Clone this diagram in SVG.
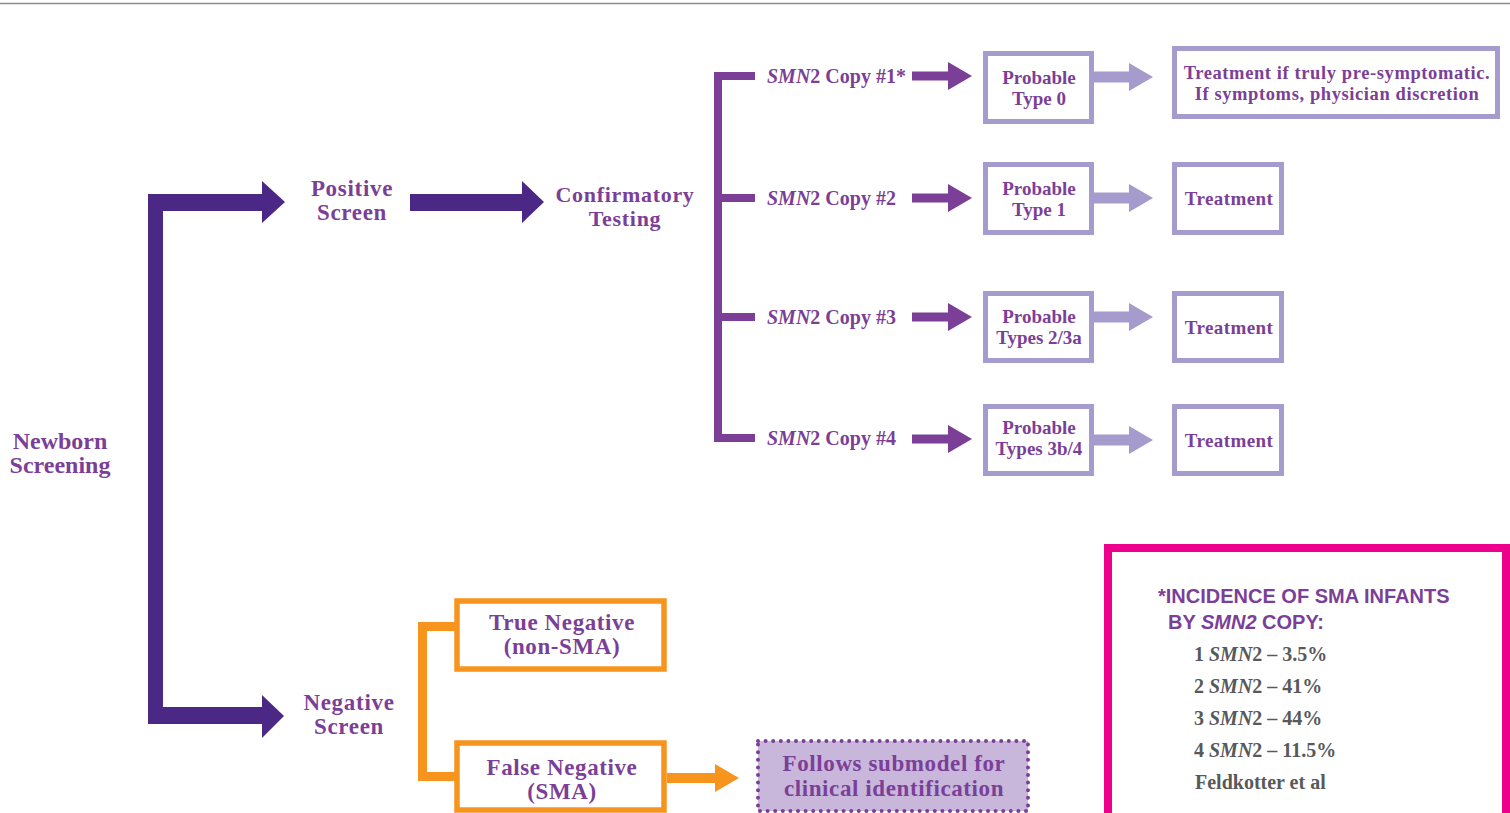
<svg xmlns="http://www.w3.org/2000/svg" width="1510" height="813" viewBox="0 0 1510 813">
<style>
.t{font-family:"Liberation Serif","DejaVu Serif",serif;font-weight:bold;fill:#7b3f98;text-anchor:middle}
.s{font-family:"Liberation Serif","DejaVu Serif",serif;font-weight:bold;fill:#7b3f98}
.g{font-family:"Liberation Serif","DejaVu Serif",serif;font-weight:bold;fill:#58595b;font-size:20px}
.h{font-family:"Liberation Sans","Arial",sans-serif;font-weight:bold;fill:#7b3f98;font-size:20px}
.lb{fill:#fff;stroke:#a59bcc;stroke-width:5}
.ob{fill:#fff;stroke:#f7941d;stroke-width:5.5}
.dk{fill:#4b2885}
.md{fill:#7b3f98}
.lt{fill:#a59bcc}
.or{fill:#f7941d}
</style>
<rect width="1510" height="813" fill="#fff"/>
<line x1="0" y1="3.5" x2="1510" y2="3.5" stroke="#8c8c8c" stroke-width="1.5"/>

<g id="connectors">
  <path class="dk" d="M148,194 H262 V181 L285,202 L262,223 V211 H163 V707 H262 V695 L284,716 L262,738 V724 H148 Z"/>
  <path class="dk" d="M410,194 H522 V181 L544,202 L522,223 V211 H410 Z"/>
  <rect class="md" x="714" y="72" width="8" height="370"/>
  <rect class="md" x="714" y="72" width="41" height="8"/>
  <rect class="md" x="714" y="194" width="41" height="8"/>
  <rect class="md" x="714" y="313" width="41" height="8"/>
  <rect class="md" x="714" y="434" width="41" height="8"/>
  <path class="md" d="M912,71.5 H948 V62 L972,76 L948,90 V80.5 H912 Z"/>
  <path class="md" d="M912,193.5 H948 V184 L972,198 L948,212 V202.5 H912 Z"/>
  <path class="md" d="M912,312.5 H948 V303 L972,317 L948,331 V321.5 H912 Z"/>
  <path class="md" d="M912,434.5 H948 V425 L972,439 L948,453 V443.5 H912 Z"/>
  <path class="lt" d="M1094,71.5 H1129 V63 L1153,77 L1129,91 V82.5 H1094 Z"/>
  <path class="lt" d="M1094,192.5 H1129 V184 L1153,198 L1129,212 V203.5 H1094 Z"/>
  <path class="lt" d="M1094,311.5 H1129 V303 L1153,317 L1129,331 V322.5 H1094 Z"/>
  <path class="lt" d="M1094,434.5 H1129 V426 L1153,440 L1129,454 V445.5 H1094 Z"/>
  <rect class="or" x="418" y="622" width="9" height="159"/>
  <rect class="or" x="418" y="622" width="38" height="9"/>
  <rect class="or" x="418" y="772" width="38" height="9"/>
  <path class="or" d="M667,773 H715 V764 L739,778 L715,792 V783 H667 Z"/>
</g>

<g id="newborn-screening">
  <text class="t" font-size="24" x="60" y="449">Newborn</text>
  <text class="t" font-size="24" x="60" y="473">Screening</text>
</g>
<g id="positive-screen">
  <text class="t" font-size="23" letter-spacing="0.7" x="352" y="196">Positive</text>
  <text class="t" font-size="23" letter-spacing="0.7" x="352" y="220">Screen</text>
</g>
<g id="confirmatory-testing">
  <text class="t" font-size="22" letter-spacing="0.7" x="625" y="202">Confirmatory</text>
  <text class="t" font-size="22" letter-spacing="0.7" x="625" y="226">Testing</text>
</g>
<g id="negative-screen">
  <text class="t" font-size="23" letter-spacing="0.7" x="349" y="710">Negative</text>
  <text class="t" font-size="23" letter-spacing="0.7" x="349" y="734">Screen</text>
</g>

<g id="copy1"><text class="s" font-size="20" x="767" y="83"><tspan font-style="italic">SMN</tspan>2 Copy #1*</text></g>
<g id="copy2"><text class="s" font-size="20" x="767" y="205"><tspan font-style="italic">SMN</tspan>2 Copy #2</text></g>
<g id="copy3"><text class="s" font-size="20" x="767" y="324"><tspan font-style="italic">SMN</tspan>2 Copy #3</text></g>
<g id="copy4"><text class="s" font-size="20" x="767" y="445"><tspan font-style="italic">SMN</tspan>2 Copy #4</text></g>

<g id="probable-type0">
  <rect class="lb" x="985.5" y="53.5" width="106" height="68"/>
  <text class="t" font-size="19" x="1039" y="84">Probable</text>
  <text class="t" font-size="19" x="1039" y="105">Type 0</text>
</g>
<g id="probable-type1">
  <rect class="lb" x="985.5" y="164.5" width="106" height="68"/>
  <text class="t" font-size="19" x="1039" y="195">Probable</text>
  <text class="t" font-size="19" x="1039" y="216">Type 1</text>
</g>
<g id="probable-types23a">
  <rect class="lb" x="985.5" y="293.5" width="106" height="67"/>
  <text class="t" font-size="19" x="1039" y="323">Probable</text>
  <text class="t" font-size="19" x="1039" y="344">Types 2/3a</text>
</g>
<g id="probable-types3b4">
  <rect class="lb" x="985.5" y="406.5" width="106" height="67"/>
  <text class="t" font-size="19" x="1039" y="434">Probable</text>
  <text class="t" font-size="19" x="1039" y="455">Types 3b/4</text>
</g>

<g id="treatment-presymptomatic">
  <rect class="lb" x="1174.5" y="48.5" width="323" height="68"/>
  <text class="t" font-size="18.5" letter-spacing="0.6" x="1337" y="79">Treatment if truly pre-symptomatic.</text>
  <text class="t" font-size="18.5" letter-spacing="0.6" x="1337" y="100">If symptoms, physician discretion</text>
</g>
<g id="treatment1">
  <rect class="lb" x="1174.5" y="164.5" width="107" height="68"/>
  <text class="t" font-size="19" letter-spacing="0.4" x="1229" y="205">Treatment</text>
</g>
<g id="treatment2">
  <rect class="lb" x="1174.5" y="293.5" width="107" height="67"/>
  <text class="t" font-size="19" letter-spacing="0.4" x="1229" y="334">Treatment</text>
</g>
<g id="treatment3">
  <rect class="lb" x="1174.5" y="406.5" width="107" height="67"/>
  <text class="t" font-size="19" letter-spacing="0.4" x="1229" y="447">Treatment</text>
</g>

<g id="true-negative">
  <rect class="ob" x="457" y="601" width="207" height="68"/>
  <text class="t" font-size="23" letter-spacing="0.6" x="562" y="630">True Negative</text>
  <text class="t" font-size="23" letter-spacing="0.6" x="562" y="654">(non-SMA)</text>
</g>
<g id="false-negative">
  <rect class="ob" x="457" y="743" width="207" height="67"/>
  <text class="t" font-size="23" letter-spacing="0.6" x="562" y="775">False Negative</text>
  <text class="t" font-size="23" letter-spacing="0.6" x="562" y="799">(SMA)</text>
</g>
<g id="submodel">
  <rect x="758" y="741" width="270" height="70" fill="#c8b7db" stroke="#7b3f98" stroke-width="4" stroke-linecap="round" stroke-dasharray="0 7.6"/>
  <text class="t" font-size="23" letter-spacing="0.6" x="894" y="771">Follows submodel for</text>
  <text class="t" font-size="23" letter-spacing="0.6" x="894" y="796">clinical identification</text>
</g>

<g id="incidence-note">
  <rect x="1108" y="548" width="398" height="300" fill="#fff" stroke="#ec008c" stroke-width="8"/>
  <text class="h" x="1158" y="603">*INCIDENCE OF SMA INFANTS</text>
  <text class="h" x="1168" y="629">BY <tspan font-style="italic">SMN2</tspan> COPY:</text>
  <text class="g" x="1194" y="661">1 <tspan font-style="italic">SMN</tspan>2 – 3.5%</text>
  <text class="g" x="1194" y="693">2 <tspan font-style="italic">SMN</tspan>2 – 41%</text>
  <text class="g" x="1194" y="725">3 <tspan font-style="italic">SMN</tspan>2 – 44%</text>
  <text class="g" x="1194" y="757">4 <tspan font-style="italic">SMN</tspan>2 – 11.5%</text>
  <text class="g" x="1195" y="789">Feldkotter et al</text>
</g>
</svg>
